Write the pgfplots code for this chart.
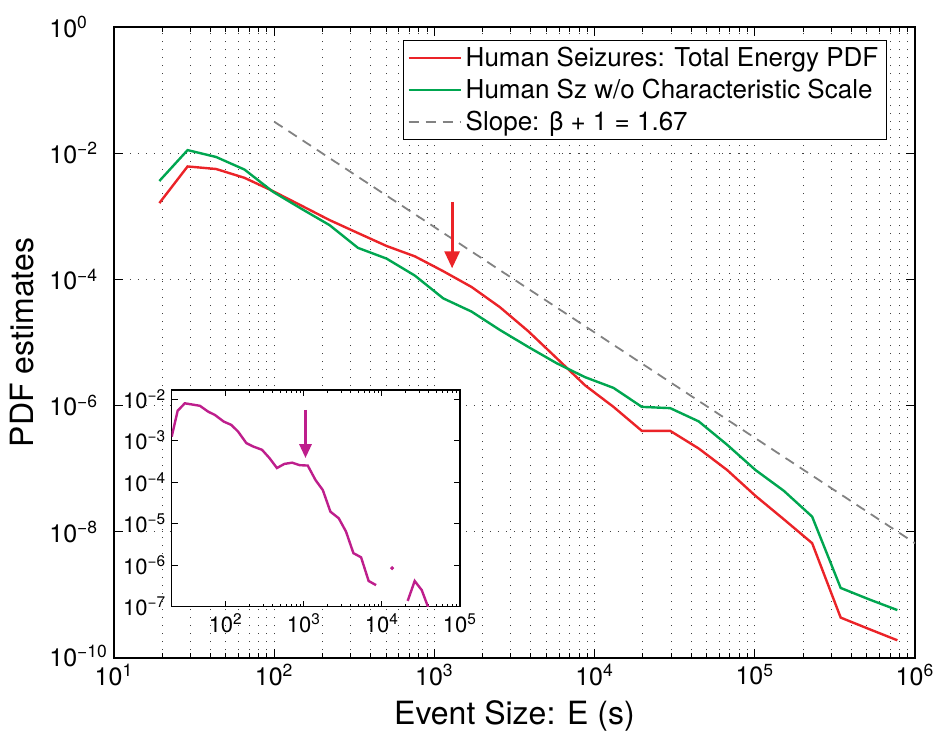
\documentclass[border=0pt]{standalone}
\usepackage{fontspec}
\setmainfont{TeX Gyre Heros}
\usepackage{pgfplots}
\pgfplotsset{compat=1.18}
\usetikzlibrary{arrows.meta}
\definecolor{cred}{RGB}{235,35,40}
\definecolor{cgreen}{RGB}{0,166,80}
\definecolor{cmag}{RGB}{190,30,140}
\definecolor{cgray}{RGB}{130,130,130}
\newcommand{\E}[1]{10\textsuperscript{#1}}
\begin{document}
\begin{tikzpicture}
\useasboundingbox (-57pt,-39pt) rectangle (409.5pt,329pt);
\begin{axis}[
  scale only axis, width=400.5pt, height=315.5pt,
  xmode=log, ymode=log,
  xmin=10, xmax=1e6, ymin=1e-10, ymax=1,
  xtick={10,100,1000,10000,100000,1000000},
  xticklabels={\E{1},\E{2},\E{3},\E{4},\E{5},\E{6}},
  ytick={1e-10,1e-8,1e-6,1e-4,1e-2,1},
  yticklabels={\raisebox{2.5pt}{\E{−10}},\E{−8},\E{−6},\E{−4},\E{−2},\E{0}},
  yminorticks=false, xminorticks=true,
  grid=both,
  major grid style={black!75, line width=0.5pt, dash pattern=on 0.6pt off 3.4pt},
  minor grid style={black!75, line width=0.5pt, dash pattern=on 0.6pt off 3.4pt},
  tick align=inside,
  major tick length=4.5pt, minor tick length=2.5pt,
  tick style={black, line width=0.5pt},
  axis line style={line width=0.7pt},
  ticklabel style={font=\fontsize{12.5}{14}\selectfont},
  yticklabel style={anchor=west, xshift=-32.5pt, inner xsep=0pt, inner ysep=0pt},
  xticklabel style={yshift=-2.8pt, inner ysep=0pt},
  xlabel={Event Size: E (s)}, ylabel={PDF estimates},
  label style={font=\fontsize{16}{19}\selectfont},
  xlabel style={at={(axis description cs:0.5,-0.092)}, anchor=center},
  ylabel style={at={(axis description cs:-0.115,0.5)}, anchor=center},
  legend style={at={(1,1)}, xshift=-14pt, yshift=-6.5pt, anchor=north east,
    font=\fontsize{13}{15.5}\selectfont, draw=black, line width=0.6pt,
    inner xsep=2pt, inner ysep=1.2pt, row sep=0.8pt},
  legend cell align=left,
  legend image code/.code={\draw[#1] (0pt,0pt) -- (26pt,0pt);},
]
\addplot[cred, line width=1.2pt] coordinates {
(19.2,1.62e-3) (28.8,6.17e-3) (43.4,5.62e-3) (65.3,4.07e-3) (98.2,2.51e-3)
(147.6,1.48e-3) (221.8,8.71e-4) (333.4,5.43e-4) (502.3,3.39e-4) (755.1,2.32e-4)
(1135,1.35e-4) (1706,7.59e-5) (2564,3.63e-5) (3855,1.51e-5) (5808,5.62e-6)
(8730,2.09e-6) (13120,9.55e-7) (19720,3.98e-7) (29650,3.98e-7) (44670,2.09e-7)
(67140,9.55e-8) (100900,3.72e-8) (151700,1.58e-8) (228000,6.61e-9) (343600,4.37e-10)
(516400,2.88e-10) (776200,1.91e-10)
};
\addlegendentry{Human Seizures: Total Energy PDF}
\addplot[cgreen, line width=1.2pt] coordinates {
(19.2,3.63e-3) (28.8,1.12e-2) (43.4,8.71e-3) (65.3,5.50e-3) (98.2,2.45e-3)
(147.6,1.32e-3) (221.8,7.24e-4) (333.4,3.16e-4) (502.3,2.14e-4) (755.1,1.15e-4)
(1135,5.01e-5) (1706,3.09e-5) (2564,1.58e-5) (3855,8.51e-6) (5808,4.68e-6)
(8730,2.82e-6) (13120,1.91e-6) (19720,9.55e-7) (29650,9.12e-7) (44670,5.62e-7)
(67140,2.40e-7) (100900,9.55e-8) (151700,4.47e-8) (228000,1.74e-8) (343600,1.29e-9)
(516400,8.51e-10) (776200,5.75e-10)
};
\addlegendentry{Human Sz w/o Characteristic Scale}
\addplot[cgray, line width=0.9pt, dash pattern=on 5pt off 3.5pt] coordinates {
(100,3.16e-2) (1000000,6.6e-9)
};
\addlegendentry{Slope: β + 1 = 1.67}
\draw[cred, line width=1.5pt, -{Triangle[width=7.5pt,length=8.5pt]}] (axis cs:1290,1.7e-3) -- (axis cs:1290,1.5e-4);
\end{axis}
\begin{axis}[
  at={(28.85pt,25.65pt)}, anchor=south west,
  scale only axis, width=144.15pt, height=108.35pt,
  xmode=log, ymode=log, xmin=20.3, xmax=1e5, ymin=1e-7, ymax=0.0166,
  axis background/.style={fill=white},
  xtick={100,1000,10000,100000}, xticklabels={\E{2},\E{3},\E{4},\E{5}},
  ytick={1e-7,1e-6,1e-5,1e-4,1e-3,1e-2},
  yticklabels={\E{−7},\E{−6},\E{−5},\E{−4},\E{−3},\E{−2}},
  yminorticks=false, xminorticks=true,
  tick align=inside, major tick length=3pt, minor tick length=1.5pt,
  tick style={black, line width=0.5pt},
  axis line style={line width=0.7pt},
  ticklabel style={font=\fontsize{11}{12.5}\selectfont},
  yticklabel style={anchor=west, xshift=-24.5pt, inner xsep=0pt, inner ysep=1pt},
  unbounded coords=jump,
]
\addplot[cmag, line width=1.2pt] coordinates {
(20.3,1.25e-3) (24.2,5.25e-3) (29.9,7.94e-3) (46.6,6.92e-3) (59.4,5.01e-3)
(72.4,4.17e-3) (94.2,2.88e-3) (117.5,2.40e-3) (143.6,1.66e-3) (183.7,8.71e-4)
(223.9,7.24e-4) (291.1,6.03e-4) (363.1,3.80e-4) (451.9,2.19e-4) (562.3,2.75e-4)
(707.9,2.95e-4) (881.0,2.57e-4) (1122,2.51e-4) (1413,1.12e-4) (1750,6.46e-5)
(2188,1.95e-5) (2799,1.35e-5) (3467,6.46e-6) (4315,1.95e-6) (5408,1.55e-6)
(6761,4.17e-7) (8414,3.31e-7) (10500,nan)
(21380,1.38e-7) (26300,4.17e-7) (32360,2.51e-7) (38900,1.0e-7) (43650,2.5e-8)
};
\addplot[cmag, only marks, mark=*, mark size=0.8pt] coordinates {(13490,8.51e-7)};
\draw[cmag, line width=1.5pt, -{Triangle[width=6pt,length=7pt]}] (axis cs:1050,5.5e-3) -- (axis cs:1050,3.8e-4);
\end{axis}
\end{tikzpicture}
\end{document}
